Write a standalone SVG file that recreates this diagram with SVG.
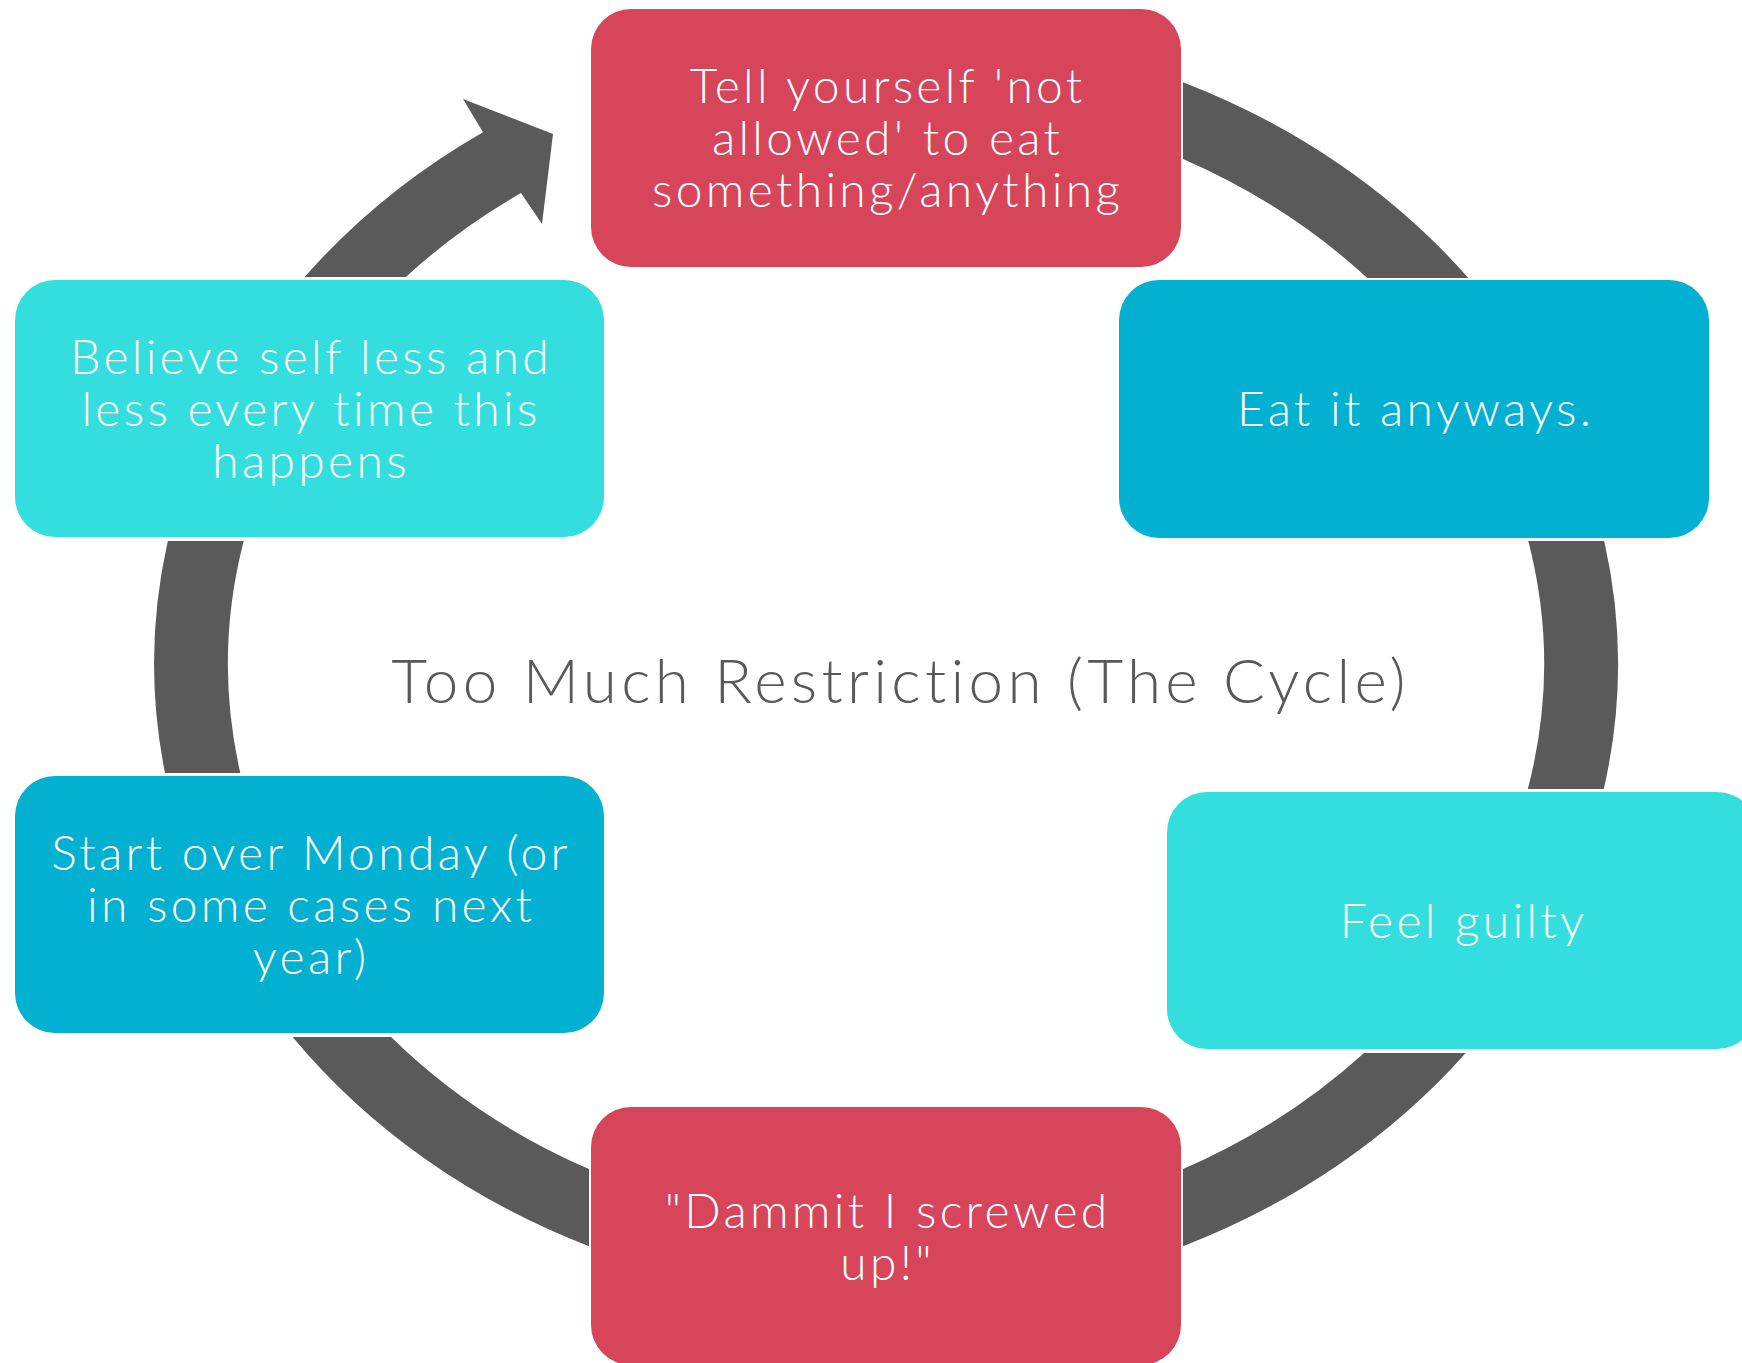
<svg xmlns="http://www.w3.org/2000/svg" width="1742" height="1363" viewBox="0 0 1742 1363">
<style>
.node text{font-family:Lato,"Open Sans","Liberation Sans",sans-serif;font-weight:300;font-size:48px;letter-spacing:3.3px;fill:#ffffff;text-anchor:middle}
.red rect{fill:#D64559}
.cyan rect{fill:#35DEDE}
.blue rect{fill:#02B0D1}
#connectors path{fill:#5A5A5A;stroke:none}
.title{font-family:Lato,"Open Sans","Liberation Sans",sans-serif;font-weight:300;font-size:62px;letter-spacing:4.3px;fill:#595959;text-anchor:middle}
</style>
<rect x="0" y="0" width="1742" height="1363" fill="#ffffff"/>
<g id="connectors">
<path d="M 1183 82.2 A 732 637 0 0 1 1468.3 278 L 1367.2 278 A 658 566 0 0 0 1183 158.9 Z"/>
<path d="M 1604.2 541 A 732 637 0 0 1 1603.8 789 L 1527.8 789 A 658 566 0 0 0 1528.3 541 Z"/>
<path d="M 1465.7 1053 A 732 637 0 0 1 1183 1246.2 L 1183 1169.1 A 658 566 0 0 0 1364 1053 Z"/>
<path d="M 589 1246.2 A 732 637 0 0 1 292.6 1037 L 391.1 1037 A 658 566 0 0 0 589 1169.1 Z"/>
<path d="M 165 773 A 732 637 0 0 1 167.8 541 L 243.7 541 A 658 566 0 0 0 240.3 773 Z"/>
<path d="M 304.6 277 A 732 637 0 0 1 483 132.2 L 463 99 L 553 134 L 542 224 L 521 193.1 A 658 566 0 0 0 405.8 277 Z"/>
</g>
<g id="node-tell" class="node red">
<rect x="591" y="9" width="590" height="258" rx="40"/>
<text x="887.6" y="103">Tell yourself 'not</text>
<text x="887.6" y="155">allowed' to eat</text>
<text x="887.6" y="207">something/anything</text>
</g>
<g id="node-eat" class="node blue">
<rect x="1119" y="280" width="590" height="258" rx="40"/>
<text x="1415.6" y="426">Eat it anyways.</text>
</g>
<g id="node-guilty" class="node cyan">
<rect x="1167" y="792" width="590" height="257" rx="40"/>
<text x="1463.6" y="938">Feel guilty</text>
</g>
<g id="node-dammit" class="node red">
<rect x="591" y="1107" width="590" height="258" rx="40"/>
<text x="887.6" y="1228">"Dammit I screwed</text>
<text x="887.6" y="1280">up!"</text>
</g>
<g id="node-start" class="node blue">
<rect x="15" y="776" width="589" height="257" rx="40"/>
<text x="311.1" y="870">Start over Monday (or</text>
<text x="311.1" y="922">in some cases next</text>
<text x="311.1" y="974">year)</text>
</g>
<g id="node-believe" class="node cyan">
<rect x="15" y="280" width="589" height="257" rx="40"/>
<text x="311.1" y="374">Believe self less and</text>
<text x="311.1" y="426">less every time this</text>
<text x="311.1" y="478">happens</text>
</g>
<text class="title" x="900.6" y="703">Too Much Restriction (The Cycle)</text>
</svg>
